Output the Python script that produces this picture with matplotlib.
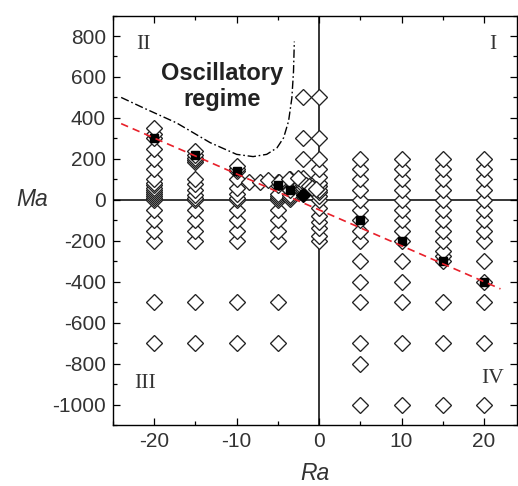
import matplotlib
matplotlib.use("Agg")
import matplotlib.pyplot as plt
from matplotlib.ticker import MultipleLocator

plt.rcParams['font.family'] = ['Liberation Sans', 'DejaVu Sans']
plt.rcParams['axes.unicode_minus'] = False

# open diamonds, one list of Ma values per Ra column
col_ra = [-20, -15, -10, -5, -3.5, -2, 0, 5, 10, 15, 20]
col_ma = [
    [350, 320, 300, 250, 200, 150, 100, 80, 70, 60, 50, 40, 30, 20, 10, 0, -50, -100, -150, -200, -500, -700],
    [240, 220, 205, 195, 185, 100, 75, 50, 25, 10, 0, -50, -100, -150, -200, -500, -700],
    [165, 150, 140, 100, 60, 30, 10, 0, -50, -100, -150, -200, -500, -700],
    [85, 70, 30, 20, 10, 0, -50, -100, -150, -200, -500, -700],
    [100, 50, 25, 15, 5],
    [500, 300, 200, 105, 70, 60, 50, 40],
    [500, 300, 200, 150, 110, 80, 65, 50, 40, 20, 0, -40, -80, -110, -140, -175, -200],
    [200, 150, 100, 50, 0, -50, -100, -150, -200, -300, -400, -500, -700, -800, -1000],
    [200, 150, 100, 50, 0, -50, -100, -150, -200, -300, -400, -500, -700, -1000],
    [200, 150, 100, 50, 0, -50, -100, -150, -200, -250, -275, -300, -500, -700, -1000],
    [200, 150, 100, 50, 0, -50, -100, -150, -200, -300, -400, -500, -700, -1000],
]
# scattered open diamonds between the columns
extra_ra = [-8.5, -7.2, -6.2, -4.9, -3.7, -2.6, -1.6, -1.2, -0.8, -0.4]
extra_ma = [85, 85, 95, 85, 100, 108, 70, 65, 60, 55]

# filled points (critical values)
crit_ra = [-20, -15, -10, -5, -3.5, 5, 10, 15, 20]
crit_ma = [300, 220, 140, 70, 50, -100, -200, -300, -400]
# the big filled diamond near the origin
crit2_ra = [-2]
crit2_ma = [25]

# boundary of the oscillatory regime
osc_ra = [-24, -21.3, -17.3, -13.2, -10.0, -8.0, -6.35, -5.1, -4.3, -3.7, -3.3, -3.1, -3.0]
osc_ma = [500, 449, 376, 279, 222, 211, 222, 254, 303, 384, 497, 627, 773]

# linear fit through the critical points
fit_ra = [-24, 22]
fit_ma = [372, -435]

fig = plt.figure(figsize=(5.18, 4.86), dpi=100)
ax = fig.add_axes([0.218, 0.1255, 0.78, 0.8425])

ax.axhline(0, color='black', lw=1.1, zorder=1)
ax.axvline(0, color='black', lw=1.1, zorder=1)

for ra, mas in zip(col_ra, col_ma):
    mas = sorted(mas)
    ax.plot([ra] * len(mas), mas, ls='none', marker='D', ms=8.0,
            mfc='white', mec='#222222', mew=0.95, zorder=2)
ax.plot(extra_ra, extra_ma, ls='none', marker='D', ms=8.0,
        mfc='white', mec='#222222', mew=0.95, zorder=2)

ax.plot(crit_ra, crit_ma, ls='none', marker='s', ms=6.2, mfc='black',
        mec='black', zorder=3)
ax.plot(crit2_ra, crit2_ma, ls='none', marker='D', ms=7.5, mfc='black',
        mec='black', zorder=3)

ax.plot(osc_ra, osc_ma, color='black', lw=1.0, dashes=(6, 2, 1.2, 2), zorder=4)
ax.plot(fit_ra, fit_ma, color='#e8202a', lw=1.2, dashes=(4.5, 3), zorder=4)

ax.text(-11.8, 555, 'Oscillatory\nregime', ha='center', va='center',
        fontsize=17, fontweight='bold', color='#222222', linespacing=1.15)

roman = dict(family=['Liberation Serif', 'DejaVu Serif'], fontsize=15.5,
             color='#333333', ha='center', va='center')
ax.text(-21.3, 760, 'II', **roman)
ax.text(21.1, 760, 'I', **roman)
ax.text(-21.1, -895, 'III', **roman)
ax.text(21.0, -872, 'IV', **roman)

ax.set_xlim(-25, 24)
ax.set_ylim(-1100, 900)
ax.xaxis.set_major_locator(MultipleLocator(10))
ax.xaxis.set_minor_locator(MultipleLocator(5))
ax.yaxis.set_major_locator(MultipleLocator(200))
ax.yaxis.set_minor_locator(MultipleLocator(100))
ax.tick_params(which='both', direction='in', top=True, right=True,
               width=0.9, labelsize=15, labelcolor='#333333', pad=5)
ax.tick_params(which='major', length=5)
ax.tick_params(which='minor', length=3)
for s in ax.spines.values():
    s.set_linewidth(1.0)

ax.set_xlabel('Ra', fontsize=16.5, fontstyle='italic', color='#333333', labelpad=8)
ax.set_ylabel('Ma', fontsize=16.5, fontstyle='italic', color='#333333',
              rotation=0, va='center', ha='center')
ax.yaxis.set_label_coords(-0.2, 0.55)

fig.savefig('out.png', dpi=100)
